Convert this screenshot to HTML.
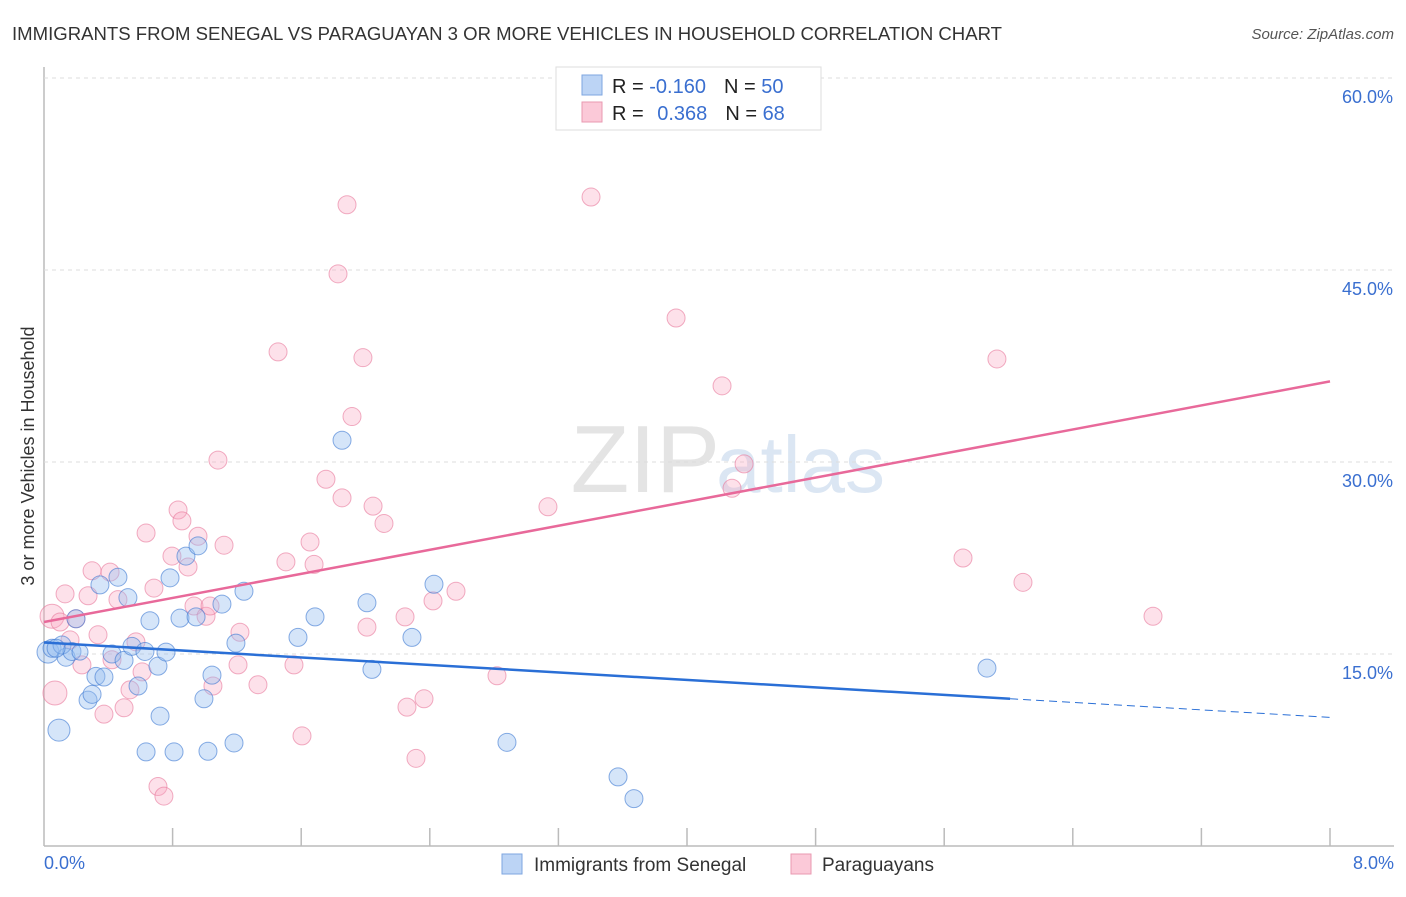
<!DOCTYPE html>
<html><head><meta charset="utf-8"><style>
body{margin:0;background:#fff;font-family:"Liberation Sans",sans-serif}
svg text{font-family:"Liberation Sans",sans-serif}
</style></head><body>
<svg id="c" width="1406" height="892" viewBox="0 0 1406 892">
<text x="12" y="40" font-size="18" fill="#333" textLength="990" lengthAdjust="spacingAndGlyphs">IMMIGRANTS FROM SENEGAL VS PARAGUAYAN 3 OR MORE VEHICLES IN HOUSEHOLD CORRELATION CHART</text>
<text x="1394" y="39" font-size="15" fill="#555" font-style="italic" text-anchor="end">Source: ZipAtlas.com</text>
<text x="720" y="492" font-size="96" fill="#e4e4e4" font-family="Liberation Serif" text-anchor="end">ZIP</text>
<text x="716" y="492" font-size="80" fill="#dbe6f3">atlas</text>
<g id="grid"></g>
<g id="pts"></g>
<g id="lines"></g>
<text transform="translate(34,456) rotate(-90)" font-size="18" fill="#333" text-anchor="middle">3 or more Vehicles in Household</text>
<text x="44" y="869" font-size="18" fill="#3a6fd0">0.0%</text>
<text x="1394" y="869" font-size="18" fill="#3a6fd0" text-anchor="end">8.0%</text>
<g>
<rect x="556" y="67" width="265" height="63" fill="#fff" stroke="#ddd"/>
<rect x="582" y="75" width="20" height="20" fill="#bcd4f5" stroke="#7ea6e0"/>
<rect x="582" y="102" width="20" height="20" fill="#fbc9d8" stroke="#e899b1"/>
<text x="612" y="93" font-size="20" fill="#222">R = <tspan fill="#3a6fd0">-0.160</tspan><tspan dx="18">N = </tspan><tspan fill="#3a6fd0">50</tspan></text>
<text x="612" y="120" font-size="20" fill="#222">R = <tspan fill="#3a6fd0" dx="8">0.368</tspan><tspan dx="18">N = </tspan><tspan fill="#3a6fd0"> 68</tspan></text>
</g>
<g>
<rect x="502" y="854" width="20" height="20" fill="#bcd4f5" stroke="#7ea6e0"/>
<text x="534" y="871" font-size="19" fill="#333">Immigrants from Senegal</text>
<rect x="791" y="854" width="20" height="20" fill="#fbc9d8" stroke="#e899b1"/>
<text x="822" y="871" font-size="19" fill="#333">Paraguayans</text>
</g>
</svg>
<script>
const yTicks=[15,30,45,60];
const yTickLabels=["15.0%","30.0%","45.0%","60.0%"];
const xTicks=[0.8,1.6,2.4,3.2,4.0,4.8,5.6,6.4,7.2,8.0];
const blueX=[0.025,0.05,0.093,0.137,0.112,0.174,0.224,0.199,0.274,0.299,0.323,0.373,0.348,0.46,0.423,0.498,0.522,0.547,0.585,0.628,0.659,0.635,0.722,0.709,0.759,0.784,0.809,0.846,0.883,0.958,0.946,0.995,1.02,1.045,1.107,1.182,1.194,1.244,1.58,1.686,1.854,2.009,2.04,2.289,2.426,2.88,3.571,3.67,5.866,0.075];
const blueY=[15.15,15.45,9.05,14.75,15.7,15.2,15.15,17.75,11.4,11.85,13.25,13.2,20.4,21.0,15.0,14.5,19.4,15.6,12.5,15.2,17.6,7.35,10.15,14.05,15.15,20.95,7.35,17.8,22.65,23.45,17.9,11.5,7.4,13.35,18.9,8.05,15.85,19.9,16.3,17.9,31.7,19.0,13.8,16.3,20.45,8.1,5.4,3.7,13.9,15.45];
const blueR=[11,9,11,9,9,9,8,9,9,9,9,9,9,9,9,9,9,9,9,9,9,9,9,9,9,9,9,9,9,9,9,9,9,9,9,9,9,9,9,9,9,9,9,9,9,9,9,9,9,9];
const pinkX=[0.05,0.068,0.1,0.131,0.162,0.199,0.236,0.274,0.299,0.336,0.373,0.411,0.423,0.46,0.498,0.535,0.572,0.61,0.635,0.684,0.709,0.746,0.796,0.834,0.858,0.896,0.933,0.958,1.008,1.033,1.051,1.082,1.12,1.219,1.207,1.331,1.456,1.505,1.555,1.605,1.655,1.68,1.754,1.829,1.854,1.885,1.916,1.984,2.009,2.047,2.115,2.246,2.258,2.314,2.364,2.42,2.563,2.818,3.135,3.403,3.932,4.218,4.28,4.355,5.717,5.928,6.09,6.899];
const pinkY=[17.95,11.95,17.5,19.7,16.1,17.75,14.15,19.55,21.5,16.5,10.3,21.4,14.55,19.25,10.8,12.2,15.95,13.6,24.45,20.15,4.65,3.9,22.65,26.25,25.4,21.8,18.75,24.2,17.95,18.75,12.5,30.15,23.5,16.7,14.15,12.6,38.6,22.2,14.15,8.6,23.75,22.0,28.65,44.7,27.2,50.1,33.55,38.15,17.1,26.55,25.2,17.9,10.85,6.85,11.5,19.15,19.9,13.3,26.5,50.7,41.25,35.95,27.95,29.85,22.5,38.05,20.6,17.95];
const pinkR=[12,12,9,9,9,9,9,9,9,9,9,9,9,9,9,9,9,9,9,9,9,9,9,9,9,9,9,9,9,9,9,9,9,9,9,9,9,9,9,9,9,9,9,9,9,9,9,9,9,9,9,9,9,9,9,9,9,9,9,9,9,9,9,9,9,9,9,9];
const blueTrend=[15.9,10.05];const blueSolidEnd=6.01;
const pinkTrend=[17.5,36.3];
const NS="http://www.w3.org/2000/svg";
const X=v=>44+v*(1286/8);
const Y=v=>846-v*12.8;
function mk(tag,attrs,parent){const e=document.createElementNS(NS,tag);for(const k in attrs)e.setAttribute(k,attrs[k]);document.getElementById(parent).appendChild(e);return e;}
let e;
e=mk('line',{x1:44,y1:67,x2:44,y2:846,stroke:'#bbb','stroke-width':1.5},'grid');


e=mk('line',{x1:44,y1:846,x2:1394,y2:846,stroke:'#bbb','stroke-width':1.5},'grid');


yTicks.forEach((t,i)=>{
 e=mk('line',{x1:44,y1:Y(t),x2:1394,y2:Y(t),stroke:'#ddd','stroke-dasharray':'4 4'},'grid');
 
 
 e=mk('text',{x:1393,y:Y(t)+25,'font-size':18,fill:'#3a6fd0','text-anchor':'end'},'grid');
 e.textContent=yTickLabels[i];
 
 
});
xTicks.forEach(t=>{
 e=mk('line',{x1:X(t),y1:828,x2:X(t),y2:846,stroke:'#bbb','stroke-width':1.5},'grid');
 
 
});
pinkX.forEach((v,i)=>{
 e=mk('circle',{cx:X(v),cy:Y(pinkY[i]),r:pinkR[i],fill:'rgba(248,170,195,0.35)',stroke:'rgba(232,120,155,0.6)','stroke-width':1},'pts');
 
 
});
blueX.forEach((v,i)=>{
 e=mk('circle',{cx:X(v),cy:Y(blueY[i]),r:blueR[i],fill:'rgba(150,190,240,0.4)',stroke:'rgba(60,120,210,0.6)','stroke-width':1},'pts');
 
 
});
const bAt=x=>blueTrend[0]+(blueTrend[1]-blueTrend[0])*x/8;
e=mk('line',{x1:X(0),y1:Y(pinkTrend[0]),x2:X(8),y2:Y(pinkTrend[1]),stroke:'#e8699a','stroke-width':2.5},'lines');


e=mk('line',{x1:X(0),y1:Y(bAt(0)),x2:X(blueSolidEnd),y2:Y(bAt(blueSolidEnd)),stroke:'#2a6fd6','stroke-width':2.5},'lines');


e=mk('line',{x1:X(blueSolidEnd),y1:Y(bAt(blueSolidEnd)),x2:X(8),y2:Y(bAt(8)),stroke:'#2a6fd6','stroke-width':1,'stroke-dasharray':'8 5'},'lines');


</script>
</body></html>
